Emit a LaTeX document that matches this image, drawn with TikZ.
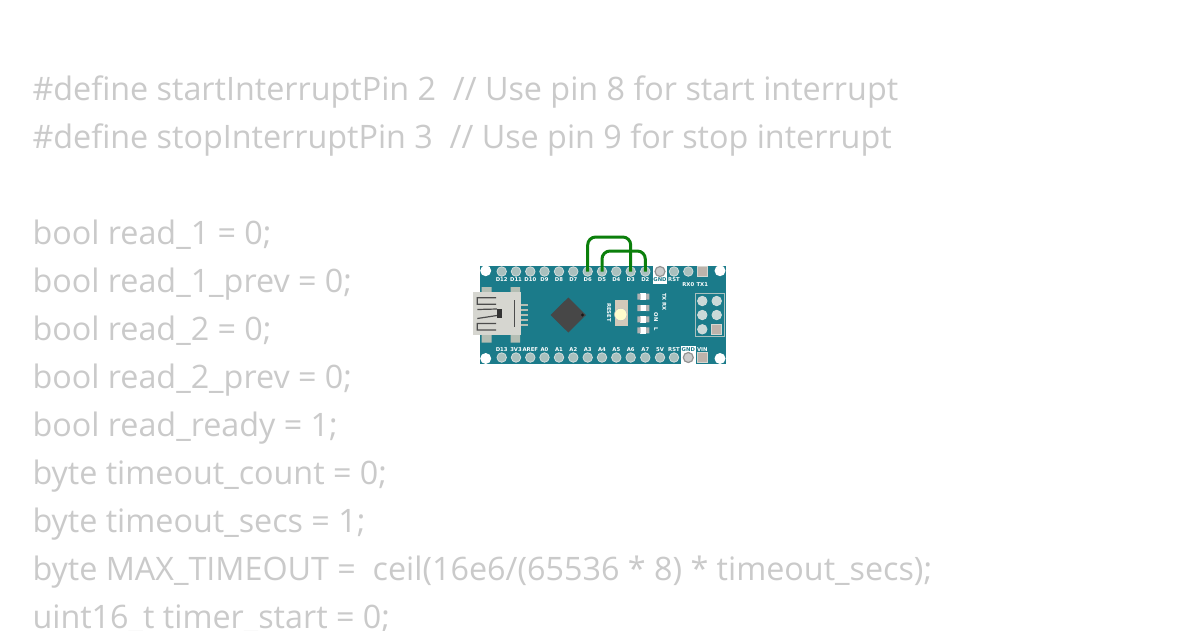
\documentclass[tikz,border=0pt]{standalone}
\usepackage{fontspec}
\setmainfont{Open Sans}
\newfontfamily\silkfont{DejaVu Sans}
\usetikzlibrary{positioning}
\definecolor{boardteal}{HTML}{1B7B8A}
\definecolor{codegray}{HTML}{CACACA}
\definecolor{wiregreen}{HTML}{0B7F0B}
\definecolor{pinring}{HTML}{A9C0BE}
\definecolor{usbgray}{HTML}{D6D6D0}
\definecolor{usbtab}{HTML}{B4BEB4}
\definecolor{padgray}{HTML}{BDB3AB}
\tikzset{
x=1pt, y=-1pt,
outer sep=0pt,
every node/.style={inner sep=0pt},
codeline/.style={anchor=base west, text=codegray, font=\fontsize{32.3}{38}\selectfont},
pin/.style={circle, minimum size=9.5, fill=pinring, draw=pinring!55!white, line width=0.8},
squarepin/.style={rectangle, minimum size=10, fill=padgray, draw=usbgray, line width=1.5},
gndpin/.style={circle, minimum size=10, fill=gray!40, draw=gray!85, line width=1.2},
hole/.style={circle, minimum size=11, fill=white},
silk/.style={text=white, font=\silkfont\bfseries\fontsize{5.3}{6.5}\selectfont},
wire/.style={draw=wiregreen, line width=3, rounded corners=8},
led/.style={rectangle, minimum width=6, minimum height=6.5, fill=white},
ledend/.style={fill=gray!60},
}
\begin{document}
\begin{tikzpicture}
    \useasboundingbox (0,0) rectangle (1200,630);
    \fill[white] (0,0) rectangle (1200,630);

    % code listing
    \node [codeline] (line1) at (32.5,100) {\#define startInterruptPin 2\ \ // Use pin 8 for start interrupt};
    \node [codeline] (line2) at (32.5,148) {\#define stopInterruptPin 3\ \ // Use pin 9 for stop interrupt};
    \node [codeline] (line3) at (32.5,244) {bool read\_1 = 0;};
    \node [codeline] (line4) at (32.5,292) {bool read\_1\_prev = 0;};
    \node [codeline] (line5) at (32.5,340) {bool read\_2 = 0;};
    \node [codeline] (line6) at (32.5,388) {bool read\_2\_prev = 0;};
    \node [codeline] (line7) at (32.5,436) {bool read\_ready = 1;};
    \node [codeline] (line8) at (32.5,484) {byte timeout\_count = 0;};
    \node [codeline] (line9) at (32.5,532) {byte timeout\_secs = 1;};
    \node [codeline] (line10) at (32.5,580) {byte MAX\_TIMEOUT =\ \ ceil(16e6/(65536 * 8) * timeout\_secs);};
    \node [codeline] (line11) at (32.5,628) {uint16\_t timer\_start = 0;};

    % board
    \fill[boardteal] (480.3,265.7) rectangle (725.7,364.3);
    \fill[white] (652.5,265.7) rectangle (667,284);
    \fill[white] (681,345.5) rectangle (695.5,364.3);
    \foreach \hx/\hy in {485.7/270.7, 720/270.7, 485.7/358.5, 720/358.5}
        \node [hole] at (\hx,\hy) {};

    % top row
    \foreach \pname/\px in {D12/501.7, D11/516, D10/530.3, D9/544.5, D8/559, D7/573.3, D6/587.7, D5/602, D4/616.3, D3/630.7, D2/645.3, RSTa/674, RX0/688.3} {
        \node [pin] (pin-\pname) at (\px,271.5) {};
    }
    \node [gndpin] (pin-GNDa) at (660,271.5) {};
    \node [squarepin] (pin-TX1) at (702.3,271.5) {};
    \foreach \pname/\px in {D12/501.7, D11/516, D10/530.3, D9/544.5, D8/559, D7/573.3, D6/587.7, D5/602, D4/616.3, D3/630.7, D2/645.3}
        \node [silk] at (\px,280) {\pname};
    \node [silk, text=boardteal] at (660,280) {GND};
    \node [silk] at (674,280) {RST};
    \node [silk] at (688.3,285) {RX0};
    \node [silk] at (702.3,285) {TX1};

    % bottom row
    \foreach \pname/\px in {D13/501.7, 3V3/516, AREF/530.3, A0/544.5, A1/559, A2/573.3, A3/587.7, A4/602, A5/616.3, A6/630.7, A7/645.3, 5V/660, RST/674} {
        \node [pin] (pin-\pname) at (\px,357.5) {};
        \node [silk] at (\px,349.5) {\pname};
    }
    \node [gndpin] (pin-GNDb) at (688.3,357.5) {};
    \node [squarepin] (pin-VIN) at (702.3,357.5) {};
    \node [silk, text=boardteal] at (688.3,349.5) {GND};
    \node [silk] at (702.3,349.5) {VIN};

    % usb socket
    \fill[usbtab] (481.7,287) rectangle (491.7,342.5) (510.7,287) rectangle (520,342.5);
    \fill[usbgray] (473,292.3) rectangle (521,335.3);
    \foreach \uy in {305, 310, 315, 320, 325}
        \fill[usbtab] (521,\uy-1.2) rectangle (527.5,\uy+1.2);
    \draw[black!70, line width=1.2] (496,297.7) -- (477.3,297.7) -- (477.3,304.3) -- (496,304.3)
        (477.3,309.5) -- (497,309)
        (477.3,318.5) -- (497,315.5)
        (496,323.5) -- (477.3,323.5) -- (477.3,330) -- (496,330);
    \fill[black!80] (496.5,309) rectangle (502,318.3);
    \draw[black!70, line width=1.3] (514.3,300) -- (514.3,326.7);

    % chip
    \fill[black!72] (568.3,297.5) -- (586,315) -- (568.3,332.5) -- (550.5,315) -- cycle;
    \fill[black!90] (582.5,315) circle (1.6);

    % reset button
    \fill[usbgray!85!brown] (615,299.7) rectangle (628.3,326.3);
    \node [circle, minimum size=12.5, fill=yellow!20!white, draw=gray!50, line width=0.5] (btn) at (620.7,314.5) {};
    \node [silk, rotate=-90] at (609,312.5) {RESET};

    % leds
    \foreach \ly in {296.5, 308, 319.3, 330.3} {
        \node [led] (led\ly) at (643.3,\ly) {};
        \fill[ledend] (637.3,\ly-3) rectangle (640.5,\ly+3) (646.2,\ly-3) rectangle (649.4,\ly+3);
    }
    \node [silk, rotate=-90] at (664.3,297) {TX};
    \node [silk, rotate=-90] at (664.3,306.8) {RX};
    \node [silk, rotate=-90] at (656,317) {ON};
    \node [silk, rotate=-90] at (656,329) {L};

    % icsp header
    \draw[pinring, line width=0.8] (695,293.3) rectangle (724.3,336.7);
    \foreach \ix/\iy in {702.3/301, 716.7/301, 702.3/315, 716.7/315, 702.3/329.3}
        \node [pin, fill=pinring!60!white] at (\ix,\iy) {};
    \node [squarepin] (pin-ICSP) at (716.7,329.3) {};

    % wires
    \coordinate (topA) at (609,237);
    \coordinate (topB) at (624,251);
    \draw [wire] (pin-D6.center) -- (pin-D6.center |- topA) -- (pin-D3.center |- topA) -- (pin-D3.center);
    \draw [wire] (pin-D5.center) -- (pin-D5.center |- topB) -- (pin-D2.center |- topB) -- (pin-D2.center);
\end{tikzpicture}
\end{document}
